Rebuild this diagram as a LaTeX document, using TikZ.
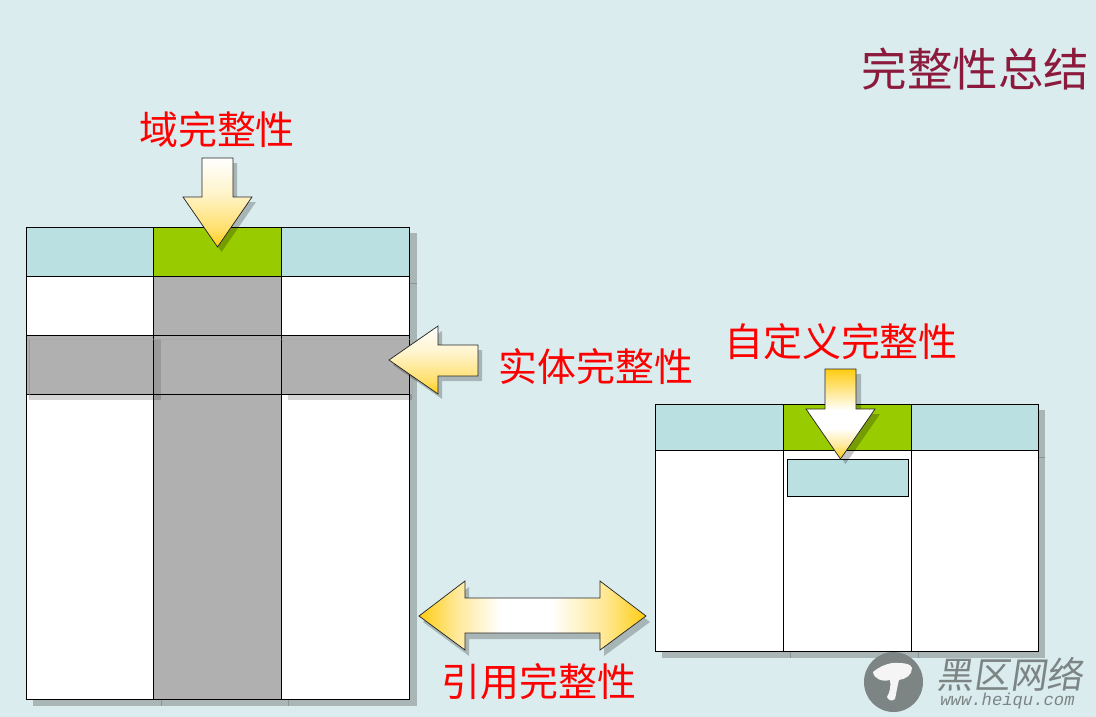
\documentclass[tikz,border=0pt]{standalone}
\usepackage{xcolor}
\usepackage{fontspec}
\newfontfamily\cjk{Noto Sans CJK SC}
\newfontfamily\cjkmark[FakeSlant=0.15]{Noto Sans CJK SC}
\setmainfont{Liberation Sans}
\setmonofont{Liberation Mono}
\definecolor{slidebg}{HTML}{DAECEE}
\definecolor{headblue}{HTML}{BAE0E2}
\definecolor{keygreen}{HTML}{99CC00}
\definecolor{rulegray}{HTML}{B0B0B0}
\definecolor{shadowgray}{HTML}{AAB5B5}
\definecolor{arrowgold}{HTML}{FFCC11}
\definecolor{titlered}{HTML}{8B1A3C}
\definecolor{markgray}{HTML}{7C8484}
\pgfdeclareverticalshading{goldfade}{100bp}{color(0bp)=(arrowgold); color(25bp)=(arrowgold); color(35bp)=(arrowgold!62!white); color(55bp)=(arrowgold!22!white); color(75bp)=(white); color(100bp)=(white)}
\pgfdeclareverticalshading{goldband}{100bp}{color(0bp)=(arrowgold); color(25bp)=(arrowgold); color(33bp)=(arrowgold!40!white); color(42bp)=(white); color(52bp)=(white); color(75bp)=(arrowgold); color(100bp)=(arrowgold)}
\pgfdeclarehorizontalshading{goldspan}{100bp}{color(0bp)=(arrowgold); color(25bp)=(arrowgold); color(33bp)=(arrowgold!45!white); color(43bp)=(white); color(54bp)=(white); color(66bp)=(arrowgold!45!white); color(75bp)=(arrowgold); color(100bp)=(arrowgold)}
\tikzset{
    cellbox/.style={draw=black, line width=0.75pt},
    shadowseam/.style={draw=black!45!shadowgray, line width=0.5pt, opacity=0.4},
    arrowshadow/.style={fill=black, fill opacity=0.23},
    arrowline/.style={draw=black!85, line width=0.55pt, shade},
    label/.style={text=red, inner sep=0pt, font=\cjk\fontsize{29.2pt}{29pt}\selectfont},
}
\begin{document}
\begin{tikzpicture}[x=0.75pt, y=-0.75pt]
    \useasboundingbox (0,0) rectangle (1096,717);
    \fill[slidebg] (0,0) rectangle (1096,717);

    % left table
    \fill[shadowgray] (33,233) rectangle (417,706);
    \draw[shadowseam] (410,283) -- (417,283);
    \draw[shadowseam] (161,699) -- (161,706);
    \draw[shadowseam] (288,699) -- (288,706);
    \draw[cellbox, fill=headblue] (26,227) rectangle (153.5,276);
    \draw[cellbox, fill=keygreen] (153.5,227) rectangle (281,276);
    \draw[cellbox, fill=headblue] (281,227) rectangle (409.5,276);
    \draw[cellbox, fill=white] (26,276) rectangle (153.5,335);
    \draw[cellbox, fill=rulegray] (153.5,276) rectangle (281,335);
    \draw[cellbox, fill=white] (281,276) rectangle (409.5,335);
    \draw[cellbox, fill=white] (26,394) rectangle (153.5,699);
    \draw[cellbox, fill=rulegray] (153.5,394) rectangle (281,699);
    \draw[cellbox, fill=white] (281,394) rectangle (409.5,699);
    \fill[black, opacity=0.16] (29,394) rectangle (161,400);
    \fill[black, opacity=0.16] (288,394) rectangle (412,400);
    \draw[cellbox, fill=rulegray] (26,335) rectangle (153.5,394);
    \draw[cellbox, fill=rulegray] (153.5,335) rectangle (281,394);
    \draw[cellbox, fill=rulegray] (281,335) rectangle (409.5,394);
    \fill[black, opacity=0.13] (154,394) rectangle (161,339);
    \draw[black!35, opacity=0.5] (29,398) -- (29,339) -- (412,339) -- (412,398);
    \draw[black, opacity=0.1] (29,339) -- (29,394);

    % right table
    \fill[shadowgray] (662,410) rectangle (1045,658);
    \draw[shadowseam] (1038,457) -- (1045,457);
    \draw[shadowseam] (790,651) -- (790,658);
    \draw[shadowseam] (918,651) -- (918,658);
    \draw[cellbox, fill=headblue] (655,404) rectangle (783,450.5);
    \draw[cellbox, fill=keygreen] (783,404) rectangle (911,450.5);
    \draw[cellbox, fill=headblue] (911,404) rectangle (1038,450.5);
    \draw[cellbox, fill=white] (655,450.5) rectangle (783,651);
    \draw[cellbox, fill=white] (783,450.5) rectangle (911,651);
    \draw[cellbox, fill=white] (911,450.5) rectangle (1038,651);
    \draw[cellbox, fill=headblue] (787,459) rectangle (908,496);

    % domain arrow
    \fill[arrowshadow, shift={(4,5)}] (202,158) -- (233,158) -- (233,197) -- (252,197) -- (217.5,247) -- (183,197) -- (202,197) -- cycle;
    \draw[arrowline, shading=goldfade] (202,158) -- (233,158) -- (233,197) -- (252,197) -- (217.5,247) -- (183,197) -- (202,197) -- cycle;

    % entity arrow
    \fill[arrowshadow, shift={(4,5)}] (389,360) -- (438,326) -- (438,345) -- (478,345) -- (478,376) -- (438,376) -- (438,394) -- cycle;
    \draw[arrowline, shading=goldfade] (389,360) -- (438,326) -- (438,345) -- (478,345) -- (478,376) -- (438,376) -- (438,394) -- cycle;

    % custom arrow
    \fill[arrowshadow, shift={(5,5)}] (825,369) -- (856,369) -- (856,409) -- (875,409) -- (840.5,459) -- (806,409) -- (825,409) -- cycle;
    \draw[arrowline, shading=goldband] (825,369) -- (856,369) -- (856,409) -- (875,409) -- (840.5,459) -- (806,409) -- (825,409) -- cycle;

    % reference arrow
    \fill[arrowshadow, shift={(4,6)}] (419,616) -- (465,581) -- (465,598) -- (600,598) -- (600,581) -- (646,616) -- (600,650) -- (600,633) -- (465,633) -- (465,650) -- cycle;
    \draw[arrowline, shading=goldspan] (419,616) -- (465,581) -- (465,598) -- (600,598) -- (600,581) -- (646,616) -- (600,650) -- (600,633) -- (465,633) -- (465,650) -- cycle;

    % labels
    \node[label] (domain) at (217,130) {域完整性};
    \node[label] (entity) at (596,367) {实体完整性};
    \node[label] (custom) at (841,342) {自定义完整性};
    \node[label] (reference) at (539,682) {引用完整性};
    \node[inner sep=0pt, text=titlered, font=\cjk\fontsize{34.1pt}{34pt}\selectfont] (title) at (975.5,69) {完整性总结};

    % watermark
    \fill[markgray] (893.5,682) ellipse (29.5 and 30);
    \fill[white!92!markgray] (873,672) .. controls (880,666) and (890,662) .. (898,663) .. controls (905,663) and (911,664) .. (912,668) .. controls (912,675) and (906,679) .. (899,680) .. controls (897,688) and (896,695) .. (895,699) .. controls (892,702) and (888,700) .. (887,697) .. controls (890,692) and (891,686) .. (890,680) .. controls (882,682) and (874,679) .. (873,672) -- cycle;
    \node[inner sep=0pt, text=markgray, font=\cjkmark\fontsize{27.4pt}{27pt}\selectfont] (markname) at (1010,674) {黑区网络};
    \node[inner sep=0pt, text=markgray, font=\ttfamily\itshape\fontsize{12.9pt}{12pt}\selectfont] (markurl) at (1007.5,701) {www.heiqu.com};
\end{tikzpicture}
\end{document}
